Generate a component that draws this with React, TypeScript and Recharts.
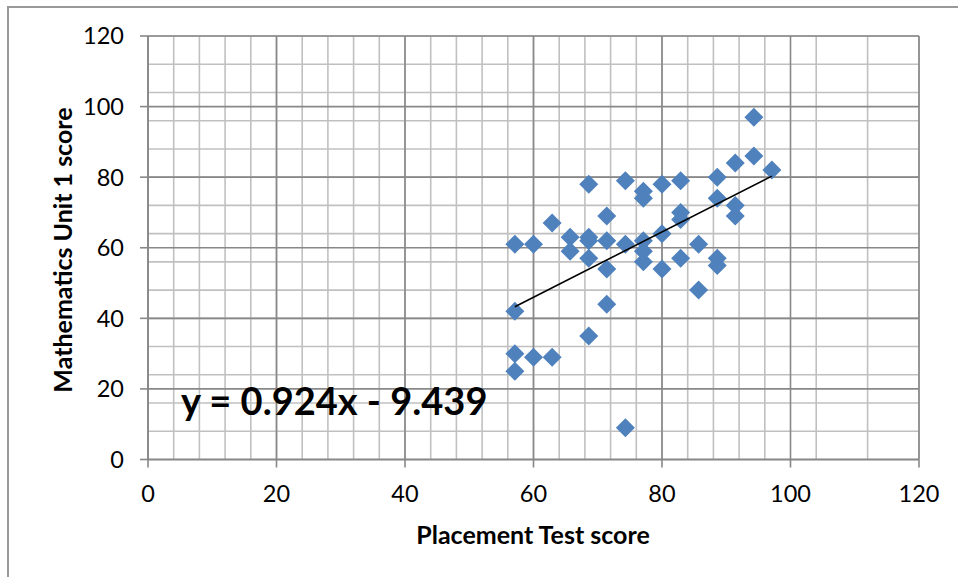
import React from 'react';
import { ScatterChart, Scatter, XAxis, YAxis, CartesianGrid } from 'recharts';

// placement test score (x) vs mathematics unit 1 score (y)
const placementScores = [
  57.1, 57.1, 57.1, 57.1,
  60, 60,
  62.9, 62.9,
  65.7, 65.7,
  68.6, 68.6, 68.6, 68.6, 68.6,
  71.4, 71.4, 71.4, 71.4,
  74.3, 74.3, 74.3,
  77.1, 77.1, 77.1, 77.1, 77.1,
  80, 80, 80,
  82.9, 82.9, 82.9, 82.9,
  85.7, 85.7,
  88.6, 88.6, 88.6, 88.6,
  91.4, 91.4, 91.4,
  94.3, 94.3,
  97.1,
];
const unitScores = [
  61, 42, 30, 25,
  61, 29,
  67, 29,
  63, 59,
  78, 63, 62, 57, 35,
  69, 62, 54, 44,
  79, 61, 9,
  76, 74, 62, 59, 56,
  78, 64, 54,
  79, 70, 68, 57,
  61, 48,
  80, 74, 57, 55,
  84, 72, 69,
  97, 86,
  82,
];

// linear trend y = 0.924x - 9.439, ends at min / max placement score
const trendX = [57.1, 97.1];
const trendY = [43.3, 80.3];

const majorTicks = [0, 20, 40, 60, 80, 100, 120];
const minorTicks = [
  0, 4, 8, 12, 16, 20, 24, 28, 32, 36, 40, 44, 48, 52, 56, 60,
  64, 68, 72, 76, 80, 84, 88, 92, 96, 100, 104, 108, 112, 116, 120,
];

const points = placementScores.map((x, i) => ({ x, y: unitScores[i] }));
const trend = trendX.map((x, i) => ({ x, y: trendY[i] }));

const FONT = 'Lato, "Noto Sans", sans-serif';

const Diamond = (props: any) => {
  const { cx, cy } = props;
  const r = 9.5;
  return (
    <path
      d={`M${cx},${cy - r} L${cx + r},${cy} L${cx},${cy + r} L${cx - r},${cy} Z`}
      fill="#4F81BD"
    />
  );
};

export default function App() {
  return (
    <div style={{ position: 'absolute', left: 0, top: 0, width: 958, height: 577, background: '#fff', fontFamily: FONT }}>
      <div
        style={{
          position: 'absolute', left: 7, top: 6, width: 951, height: 571,
          borderTop: '2px solid #999', borderLeft: '2px solid #999', boxSizing: 'border-box',
        }}
      />
      <ScatterChart width={958} height={577} margin={{ top: 36, right: 39, bottom: 77.5, left: 88 }}>
        <CartesianGrid stroke="#c0c0c0" strokeWidth={1.6} horizontalValues={minorTicks} verticalValues={minorTicks} />
        <CartesianGrid stroke="#888" strokeWidth={1.6} horizontalValues={majorTicks} verticalValues={majorTicks} />
        <XAxis
          type="number" dataKey="x" domain={[0, 120]} ticks={majorTicks} height={40}
          axisLine={{ stroke: '#888', strokeWidth: 1.6 }} tickLine={{ stroke: '#888', strokeWidth: 1.6 }}
          tickSize={8} tickMargin={18}
          tick={{ fill: '#000', fontSize: 23.5, fontFamily: FONT }}
        />
        <YAxis
          type="number" dataKey="y" domain={[0, 120]} ticks={majorTicks} width={60}
          axisLine={{ stroke: '#888', strokeWidth: 1.6 }} tickLine={{ stroke: '#888', strokeWidth: 1.6 }}
          tickSize={8} tickMargin={16}
          tick={{ fill: '#000', fontSize: 23.5, fontFamily: FONT }}
        />
        <Scatter data={points} shape={<Diamond />} isAnimationActive={false} />
        <Scatter
          data={trend} line={{ stroke: '#000', strokeWidth: 1.6 }} shape={() => <g />}
          isAnimationActive={false}
        />
      </ScatterChart>
      <div
        style={{
          position: 'absolute', left: 62, top: 250, transform: 'translate(-50%, -50%) rotate(-90deg)',
          whiteSpace: 'nowrap', fontWeight: 700, fontSize: 25, color: '#000',
        }}
      >
        Mathematics Unit 1 score
      </div>
      <div
        style={{
          position: 'absolute', left: 533, top: 534, transform: 'translate(-50%, -50%)',
          whiteSpace: 'nowrap', fontWeight: 700, fontSize: 25, color: '#000',
        }}
      >
        Placement Test score
      </div>
      <div
        style={{
          position: 'absolute', left: 181, top: 377, whiteSpace: 'nowrap',
          fontWeight: 700, fontSize: 38, color: '#000', lineHeight: '46px',
        }}
      >
        y = 0.924x - 9.439
      </div>
    </div>
  );
}
